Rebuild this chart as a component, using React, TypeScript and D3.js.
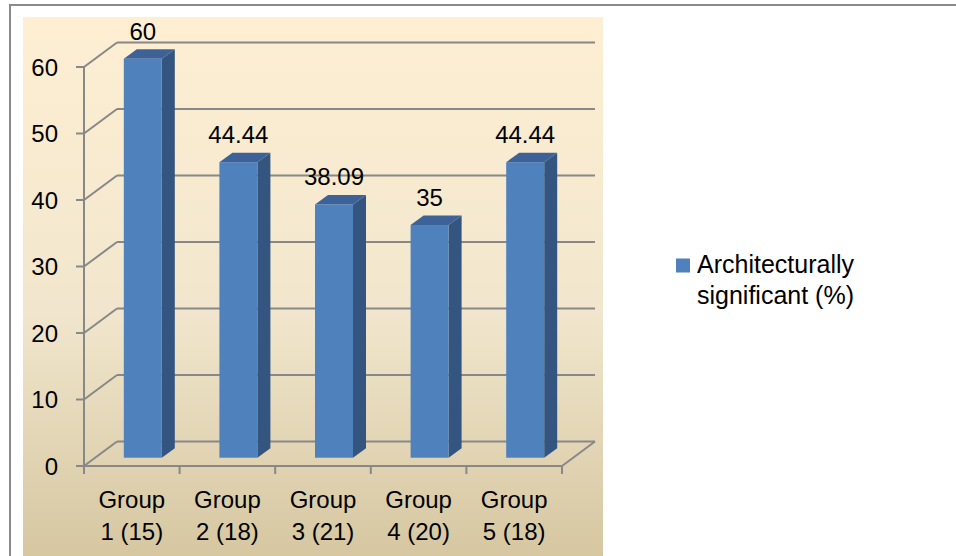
import React from "react";
import * as d3 from "d3";

const categories = ["Group 1 (15)", "Group 2 (18)", "Group 3 (21)", "Group 4 (20)", "Group 5 (18)"];
const valueLabels = ["60", "44.44", "38.09", "35", "44.44"];
const values = [60, 44.44, 38.09, 35, 44.44];
const yTicks = [0, 10, 20, 30, 40, 50, 60];
const seriesName = ["Architecturally", "significant (%)"];

const W = 956;
const H = 556;
const FONT = "'Liberation Sans', Arial, sans-serif";

export default function App() {
  const x = d3.scaleBand<string>().domain(categories).range([84, 562]).paddingInner(0).paddingOuter(0);
  const y = d3.scaleLinear().domain([0, 60]).range([466, 67]);
  const wallDX = 33;
  const wallDY = -24.5;
  const barFrontDX = 11;
  const barFrontDY = -8.3;
  const barDepthDX = 13;
  const barDepthDY = -9.5;
  const barW = 38;
  const grid = "#888888";

  return (
    <div style={{ position: "absolute", left: 0, top: 0, width: W, height: H }}>
      <svg width={W} height={H} style={{ display: "block" }}>
        <defs>
          <linearGradient id="bg" x1="0" y1="0" x2="0" y2="1">
            <stop offset="0" stopColor="#FEEFD3" />
            <stop offset="0.55" stopColor="#F1E6CD" />
            <stop offset="1" stopColor="#D6C7A1" />
          </linearGradient>
        </defs>
        <rect x={0} y={0} width={W} height={H} fill="#ffffff" />
        <rect x={10} y={5} width={W + 10} height={H + 10} fill="none" stroke="#8a8a8a" strokeWidth={2} />
        <rect x={23} y={17} width={580} height={H - 17} fill="url(#bg)" />

        {yTicks.map((v) => (
          <g key={v}>
            <line x1={84 + wallDX} x2={562 + wallDX} y1={y(v) + wallDY} y2={y(v) + wallDY} stroke={grid} strokeWidth={2} />
            <line x1={84} x2={84 + wallDX} y1={y(v)} y2={y(v) + wallDY} stroke={grid} strokeWidth={2} />
            <line x1={76} x2={84} y1={y(v)} y2={y(v)} stroke={grid} strokeWidth={2} />
            <text x={58} y={y(v) + 8.5} textAnchor="end" fontFamily={FONT} fontSize={24} fill="#000">{v}</text>
          </g>
        ))}
        <line x1={562} x2={562 + wallDX} y1={y(0)} y2={y(0) + wallDY} stroke={grid} strokeWidth={2} />
        <line x1={84} x2={84} y1={y(60)} y2={y(0)} stroke={grid} strokeWidth={2} />
        <line x1={84} x2={562} y1={y(0)} y2={y(0)} stroke={grid} strokeWidth={2} />
        {[...categories.map((c) => x(c) as number), 562].map((px, i) => (
          <line key={i} x1={px} x2={px} y1={y(0)} y2={y(0) + 8} stroke={grid} strokeWidth={2} />
        ))}

        {categories.map((c, i) => {
          const cx = (x(c) as number) + x.bandwidth() / 2 + barFrontDX;
          const l = cx - barW / 2;
          const r = cx + barW / 2;
          const t = y(values[i]) + barFrontDY;
          const b = y(0) + barFrontDY;
          const top = `M${l},${t} L${l + barDepthDX},${t + barDepthDY} L${r + barDepthDX},${t + barDepthDY} L${r},${t} Z`;
          const side = `M${r},${t} L${r + barDepthDX},${t + barDepthDY} L${r + barDepthDX},${b + barDepthDY} L${r},${b} Z`;
          return (
            <g key={c}>
              <path d={side} fill="#34557F" />
              <path d={top} fill="#3D6297" />
              <rect x={l} y={t} width={barW} height={b - t} fill="#4F81BD" />
              <text x={cx} y={t - 19} textAnchor="middle" fontFamily={FONT} fontSize={24} fill="#000">{valueLabels[i]}</text>
            </g>
          );
        })}

        {categories.map((c) => {
          const cx = (x(c) as number) + x.bandwidth() / 2;
          const parts = c.split(" ");
          return (
            <text key={c} textAnchor="middle" fontFamily={FONT} fontSize={24} fill="#000">
              <tspan x={cx} y={508}>{parts[0]}</tspan>
              <tspan x={cx} y={540}>{parts.slice(1).join(" ")}</tspan>
            </text>
          );
        })}

        <rect x={676} y={258.5} width={14} height={14} fill="#4F81BD" />
        <text fontFamily={FONT} fontSize={25} fill="#000">
          <tspan x={697} y={273}>{seriesName[0]}</tspan>
          <tspan x={697} y={304}>{seriesName[1]}</tspan>
        </text>
      </svg>
    </div>
  );
}
